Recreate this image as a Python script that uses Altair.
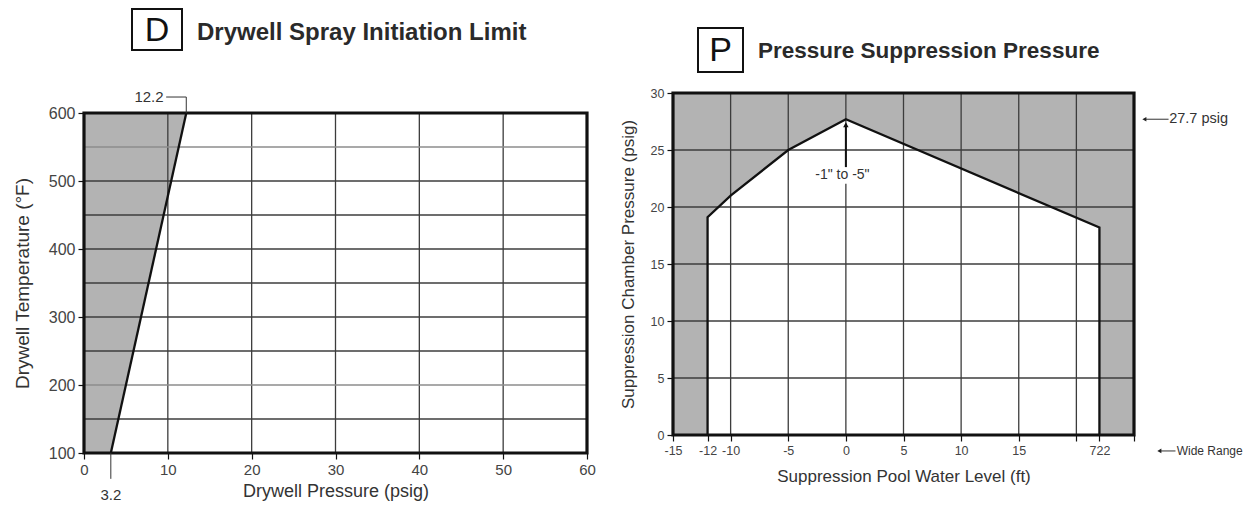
import altair as alt
import pandas as pd

# ---------------- Panel D : Drywell Spray Initiation Limit ----------------
d_title = "Drywell Spray Initiation Limit"
d_letter = "D"
d_limit_pressure = [3.2, 12.2]        # psig
d_limit_temperature = [100, 600]      # deg F
d_x_ticks = [0, 10, 20, 30, 40, 50, 60]
d_y_ticks = [100, 200, 300, 400, 500, 600]
d_vgrid = [10, 20, 30, 40, 50]
d_hgrid_dark = [150, 250, 300, 350, 400, 450, 500]
d_hgrid_light = [200, 550]

# ---------------- Panel P : Pressure Suppression Pressure ----------------
p_title = "Pressure Suppression Pressure"
p_letter = "P"
p_level = [-12, -10, -5, 0, 22]             # ft
p_pressure = [19.1, 21.0, 25.0, 27.7, 18.2]  # psig
p_x_ticks = [-15, -12, -10, -5, 0, 5, 10, 15, 20, 22, 25]
p_y_ticks = [0, 5, 10, 15, 20, 25, 30]
p_vgrid = [-10, -5, 0, 5, 10, 15, 20]
p_hgrid = [5, 10, 15, 20, 25]

# ---------------- styling / layout ----------------
FONT = "Liberation Sans"
GRAY = "#b3b3b3"
INK = "#111111"
GRID = "#3c3c3c"
GRID_LIGHT = "#8c8c8c"

D_X, D_Y = [0, 60], [100, 600]
P_X, P_Y = [-15, 25], [0, 30]

common_axis = dict(grid=False, domain=False, tickSize=6, tickWidth=1.2, tickColor=INK,
                   labelFont=FONT, titleFont=FONT, labelColor="#444", titleColor="#333",
                   titleFontWeight="normal", labelOverlap=False, labelFlush=False)

D = {
    "sx": alt.Scale(domain=D_X, range=[76, 579], nice=False, zero=False),
    "sy": alt.Scale(domain=D_Y, range=[445, 105], nice=False, zero=False),
    "ax": alt.Axis(orient="bottom", offset=-49, values=d_x_ticks, title="Drywell Pressure (psig)",
                   labelFontSize=15, titleFontSize=18, titlePadding=5, labelPadding=3,
                   labelExpr="datum.value + ''", **common_axis),
    "ay": alt.Axis(orient="left", offset=-76, values=d_y_ticks, title="Drywell Temperature (°F)",
                   labelFontSize=16, titleFontSize=19, titlePadding=16, labelPadding=3,
                   labelExpr="datum.value + ''", **common_axis),
}
P = {
    "sx": alt.Scale(domain=P_X, range=[665, 1126], nice=False, zero=False),
    "sy": alt.Scale(domain=P_Y, range=[427, 85], nice=False, zero=False),
    "ax": alt.Axis(orient="bottom", offset=-67, values=p_x_ticks, title="Suppression Pool Water Level (ft)",
                   labelFontSize=12.5, titleFontSize=17, titlePadding=12, labelPadding=3,
                   labelExpr="datum.value == 22 ? '722' : ((datum.value == 20 || datum.value == 25) ? '' : datum.value + '')",
                   **common_axis),
    "ay": alt.Axis(orient="left", offset=-665, values=p_y_ticks, title="Suppression Chamber Pressure (psig)",
                   labelFontSize=12.5, titleFontSize=17, titlePadding=13, labelPadding=3,
                   labelExpr="datum.value + ''", **common_axis),
}


def X(f, pn):
    return alt.X(f, type="quantitative", scale=pn["sx"], axis=pn["ax"])


def Y(f, pn):
    return alt.Y(f, type="quantitative", scale=pn["sy"], axis=pn["ay"])


# ================= Panel D layers =================
d_line_df = pd.DataFrame({"p": d_limit_pressure, "t": d_limit_temperature, "z": [D_X[0]] * 2})

d_shade = alt.Chart(d_line_df).mark_area(orient="horizontal", color=GRAY).encode(
    y=Y("t", D), x=X("p", D), x2="z:Q")

d_vg = alt.Chart(pd.DataFrame({"v": d_vgrid, "lo": D_Y[0], "hi": D_Y[1]})).mark_rule(
    color=GRID, strokeWidth=1.3).encode(x=X("v", D), y=Y("lo", D), y2="hi:Q")
d_hg = alt.Chart(pd.DataFrame({"v": d_hgrid_dark, "lo": D_X[0], "hi": D_X[1]})).mark_rule(
    color=GRID, strokeWidth=1.3).encode(y=Y("v", D), x=X("lo", D), x2="hi:Q")
d_hg2 = alt.Chart(pd.DataFrame({"v": d_hgrid_light, "lo": D_X[0], "hi": D_X[1]})).mark_rule(
    color=GRID_LIGHT, strokeWidth=1.3).encode(y=Y("v", D), x=X("lo", D), x2="hi:Q")

d_limit = alt.Chart(d_line_df).mark_line(color=INK, strokeWidth=2.3).encode(
    x=X("p", D), y=Y("t", D))

d_border = alt.Chart(pd.DataFrame({"x0": [D_X[0]], "x1": [D_X[1]], "y0": [D_Y[0]], "y1": [D_Y[1]]})).mark_rect(
    fillOpacity=0, stroke=INK, strokeWidth=3.2).encode(x=X("x0", D), x2="x1:Q", y=Y("y0", D), y2="y1:Q")

# annotation "12.2" with leader
d_top_lead = alt.Chart(pd.DataFrame({"o": [0, 1, 2], "x": [9.8, 12.2, 12.2], "y": [623.5, 623.5, 600]})).mark_line(
    color="#333", strokeWidth=1).encode(x=X("x", D), y=Y("y", D), order="o:Q")
d_top_text = alt.Chart(pd.DataFrame({"x": [9.5], "y": [623.5], "s": ["12.2"]})).mark_text(
    align="right", baseline="middle", font=FONT, fontSize=15, color="#333").encode(
    x=X("x", D), y=Y("y", D), text="s:N")
# annotation "3.2" with leader
d_bot_lead = alt.Chart(pd.DataFrame({"x": [3.2], "y0": [100], "y1": [62]})).mark_rule(
    color="#333", strokeWidth=1).encode(x=X("x", D), y=Y("y0", D), y2="y1:Q")
d_bot_text = alt.Chart(pd.DataFrame({"x": [3.2], "y": [38], "s": ["3.2"]})).mark_text(
    align="center", baseline="middle", font=FONT, fontSize=15, color="#333").encode(
    x=X("x", D), y=Y("y", D), text="s:N")

panel_d = alt.layer(d_shade, d_vg, d_hg, d_hg2, d_limit, d_border,
                    d_top_lead, d_top_text, d_bot_lead, d_bot_text)

# ================= Panel P layers =================
p_bg = alt.Chart(pd.DataFrame({"x0": [P_X[0]], "x1": [P_X[1]], "y0": [P_Y[0]], "y1": [P_Y[1]]})).mark_rect(
    color=GRAY).encode(x=X("x0", P), x2="x1:Q", y=Y("y0", P), y2="y1:Q")

p_df = pd.DataFrame({"lvl": p_level, "prs": p_pressure, "z": [P_Y[0]] * len(p_level)})
p_white = alt.Chart(p_df).mark_area(color="white", opacity=1).encode(
    x=X("lvl", P), y=Y("prs", P), y2="z:Q")

p_vg = alt.Chart(pd.DataFrame({"v": p_vgrid, "lo": P_Y[0], "hi": P_Y[1]})).mark_rule(
    color=GRID, strokeWidth=1.3).encode(x=X("v", P), y=Y("lo", P), y2="hi:Q")
p_hg = alt.Chart(pd.DataFrame({"v": p_hgrid, "lo": P_X[0], "hi": P_X[1]})).mark_rule(
    color=GRID, strokeWidth=1.3).encode(y=Y("v", P), x=X("lo", P), x2="hi:Q")

outline_x = [p_level[0]] + p_level + [p_level[-1]]
outline_y = [P_Y[0]] + p_pressure + [P_Y[0]]
p_outline = alt.Chart(pd.DataFrame({"o": list(range(len(outline_x))), "x": outline_x, "y": outline_y})).mark_line(
    color=INK, strokeWidth=2.3).encode(x=X("x", P), y=Y("y", P), order="o:Q")

# "-1" to -5"" callout
p_lab_bg = alt.Chart(pd.DataFrame({"x0": [-2.9], "x1": [2.4], "y0": [22.05], "y1": [23.5]})).mark_rect(
    color="white").encode(x=X("x0", P), x2="x1:Q", y=Y("y0", P), y2="y1:Q")
p_arrow_line = alt.Chart(pd.DataFrame({"x": [0], "y0": [23.5], "y1": [27.3]})).mark_rule(
    color=INK, strokeWidth=2).encode(x=X("x", P), y=Y("y0", P), y2="y1:Q")
p_arrow_head = alt.Chart(pd.DataFrame({"x": [0], "y": [27.2]})).mark_point(
    shape="triangle-up", filled=True, size=30, color=INK, opacity=1).encode(x=X("x", P), y=Y("y", P))
p_lab = alt.Chart(pd.DataFrame({"x": [-0.3], "y": [22.8], "s": ['-1" to -5"']})).mark_text(
    align="center", baseline="middle", font=FONT, fontSize=14, color="#333").encode(
    x=X("x", P), y=Y("y", P), text="s:N")

p_border = alt.Chart(pd.DataFrame({"x0": [P_X[0]], "x1": [P_X[1]], "y0": [P_Y[0]], "y1": [P_Y[1]]})).mark_rect(
    fillOpacity=0, stroke=INK, strokeWidth=3.2).encode(x=X("x0", P), x2="x1:Q", y=Y("y0", P), y2="y1:Q")

# outside arrows: 27.7 psig and Wide Range
side_df = pd.DataFrame({"x0": [25.9, 27.2], "x1": [28.0, 28.6], "y": [27.7, -1.4],
                        "tx": [28.05, 28.7], "s": ["27.7 psig", "Wide Range"], "fs": [14.5, 12]})
p_side_line = alt.Chart(side_df).mark_rule(color="#333", strokeWidth=1).encode(
    x=X("x0", P), x2="x1:Q", y=Y("y", P))
p_side_head = alt.Chart(side_df).mark_point(shape="triangle-left", filled=True, size=22, color="#222",
                                            opacity=1).encode(x=X("x0", P), y=Y("y", P))
p_side_text = alt.Chart(side_df).mark_text(align="left", baseline="middle", font=FONT,
                                           color="#333").encode(
    x=X("tx", P), y=Y("y", P), text="s:N", size=alt.Size("fs:Q", scale=None, legend=None))

panel_p = alt.layer(p_bg, p_white, p_vg, p_hg, p_lab_bg, p_outline, p_arrow_line, p_arrow_head,
                    p_lab, p_border, p_side_line, p_side_head, p_side_text)


# ================= headings (boxed letters + titles) =================
def heading(letter, title, box, letter_xy, title_xy, title_size):
    one = pd.DataFrame({"letter": [letter], "title": [title]})
    b = alt.Chart(one).mark_rect(fillOpacity=0, stroke=INK, strokeWidth=2).encode(
        x=alt.value(box[0]), x2=alt.value(box[1]), y=alt.value(box[2]), y2=alt.value(box[3]))
    l = alt.Chart(one).mark_text(align="center", baseline="middle", font=FONT, fontSize=34,
                                 color=INK).encode(x=alt.value(letter_xy[0]), y=alt.value(letter_xy[1]),
                                                   text="letter:N")
    t = alt.Chart(one).mark_text(align="left", baseline="middle", font=FONT, fontSize=title_size,
                                 fontWeight="bold", color="#2a2a2a").encode(
        x=alt.value(title_xy[0]), y=alt.value(title_xy[1]), text="title:N")
    return [b, l, t]


heads = heading(d_letter, d_title, (124, 174, 1, 42), (149, 23), (189, 25), 24) + \
        heading(p_letter, p_title, (690, 735, 20, 64), (712.5, 43), (750, 43), 22.5)

chart = alt.layer(panel_d, panel_p, *heads).resolve_scale(
    x="independent", y="independent").resolve_axis(x="independent", y="independent").properties(
    width=1236, height=494, padding=0, autosize=alt.AutoSizeParams(type="none"),
    background="white").configure_view(stroke="transparent")

chart.save("out.html", embed_options={"renderer": "svg", "actions": False})
